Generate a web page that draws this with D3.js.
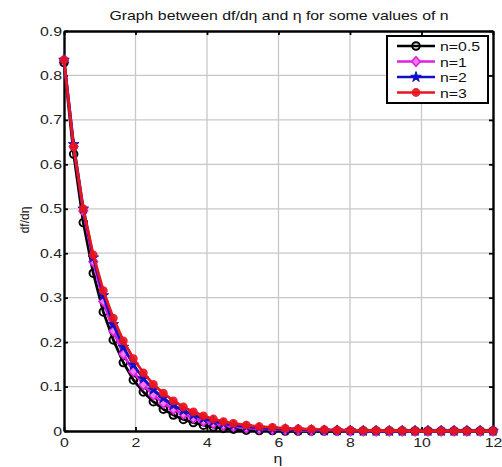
<!DOCTYPE html>
<html>
<head>
<meta charset="utf-8">
<script src="https://cdn.jsdelivr.net/npm/d3@7"></script>
<style>
  body { margin: 0; background: #fff; }
  text { font-family: Arial, "Liberation Sans", sans-serif; }
</style>
</head>
<body>
<div id="viz"></div>
<script>
// eta mesh (solver points)
const eta = [0, 0.27, 0.54, 0.82, 1.10, 1.38, 1.66, 1.94, 2.22, 2.50, 2.78, 3.06, 3.34, 3.62, 3.90,
  4.18, 4.46, 4.74, 5.10, 5.46, 5.83, 6.19, 6.55, 6.92, 7.28, 7.64, 8.01, 8.37, 8.73, 9.10,
  9.46, 9.82, 10.18, 10.55, 10.91, 11.27, 11.64, 12.0];

// df/deta for each n
const n05 = [0.829, 0.623, 0.469, 0.355, 0.268, 0.205, 0.154, 0.115, 0.088, 0.066, 0.049, 0.036, 0.026, 0.019, 0.013,
  0.009, 0.006, 0.004, 0.002, 0.001, 0.001, 0, 0, 0, 0, 0, 0, 0, 0, 0,
  0, 0, 0, 0, 0, 0, 0, 0];
const n1 = [0.835, 0.640, 0.495, 0.381, 0.292, 0.225, 0.173, 0.134, 0.104, 0.081, 0.063, 0.049, 0.038, 0.029, 0.022,
  0.017, 0.013, 0.010, 0.007, 0.005, 0.004, 0.003, 0.002, 0.001, 0.001, 0.001, 0, 0, 0, 0,
  0, 0, 0, 0, 0, 0, 0, 0];
const n2 = [0.835, 0.645, 0.500, 0.390, 0.305, 0.240, 0.189, 0.149, 0.118, 0.093, 0.074, 0.058, 0.046, 0.036, 0.028,
  0.022, 0.017, 0.013, 0.010, 0.007, 0.005, 0.004, 0.003, 0.002, 0.001, 0.001, 0.001, 0, 0, 0,
  0, 0, 0, 0, 0, 0, 0, 0];
const n3 = [0.835, 0.640, 0.500, 0.396, 0.316, 0.254, 0.203, 0.163, 0.131, 0.105, 0.085, 0.068, 0.054, 0.043, 0.034,
  0.027, 0.021, 0.017, 0.013, 0.010, 0.008, 0.006, 0.005, 0.004, 0.003, 0.002, 0.002, 0.001, 0.001, 0.001,
  0.001, 0, 0, 0, 0, 0, 0, 0];

const xTicks = [0, 2, 4, 6, 8, 10, 12];
const yTicks = [0, 0.1, 0.2, 0.3, 0.4, 0.5, 0.6, 0.7, 0.8, 0.9];

const series = [
  { name: "n=0.5", values: n05, color: "#000000", marker: "open" },
  { name: "n=1", values: n1, color: "#e020e0", marker: "diamond" },
  { name: "n=2", values: n2, color: "#1010c8", marker: "star" },
  { name: "n=3", values: n3, color: "#e8141e", marker: "dot" }
];

const W = 502, H = 467;
const margin = { left: 64, right: 9, top: 31, bottom: 36 };
// the picture is stretched sideways, so text is widened
const SX = 1.27;

const svg = d3.select("#viz").append("svg")
  .attr("width", W)
  .attr("height", H);

const x = d3.scaleLinear().domain([0, 12]).range([margin.left, W - margin.right]);
const y = d3.scaleLinear().domain([0, 0.9]).range([H - margin.bottom, margin.top]);

//grid
svg.append("g").selectAll("line").data(xTicks.slice(1, -1)).join("line")
  .attr("x1", d => x(d)).attr("x2", d => x(d))
  .attr("y1", y(0)).attr("y2", y(0.9))
  .attr("stroke", "#c8c8c8").attr("stroke-width", 1.3);
svg.append("g").selectAll("line").data(yTicks.slice(1, -1)).join("line")
  .attr("x1", x(0)).attr("x2", x(12))
  .attr("y1", d => y(d)).attr("y2", d => y(d))
  .attr("stroke", "#c8c8c8").attr("stroke-width", 1.3);

//axes (ticks inside, box on)
const bottomAxis = svg.append("g").attr("transform", `translate(0,${y(0)})`)
  .call(d3.axisBottom(x).tickValues(xTicks).tickFormat(d3.format("d")).tickSizeInner(-4).tickSizeOuter(0).tickPadding(7));
const topAxis = svg.append("g").attr("transform", `translate(0,${y(0.9)})`)
  .call(d3.axisTop(x).tickValues(xTicks).tickFormat("").tickSizeInner(-4).tickSizeOuter(0));
const leftAxis = svg.append("g").attr("transform", `translate(${x(0)},0)`)
  .call(d3.axisLeft(y).tickValues(yTicks).tickFormat(d => d === 0 ? "0" : d3.format(".1f")(d)).tickSizeInner(-4).tickSizeOuter(0).tickPadding(1.5));
const rightAxis = svg.append("g").attr("transform", `translate(${x(12)},0)`)
  .call(d3.axisRight(y).tickValues(yTicks).tickFormat("").tickSizeInner(-4).tickSizeOuter(0));

[bottomAxis, topAxis, leftAxis, rightAxis].forEach(g => {
  g.select(".domain").attr("stroke", "#000").attr("stroke-width", 2.4);
  g.selectAll(".tick line").attr("stroke", "#000").attr("stroke-width", 1.8);
  g.selectAll(".tick text").attr("fill", "#222").style("font-size", "12.5px")
    .style("font-family", "Arial, 'Liberation Sans', sans-serif")
    .attr("transform", `scale(${SX},1)`);
});

//series lines
const line = d3.line().x((d, i) => x(eta[i])).y(d => y(d));

function drawMarker(g, s, cx, cy) {
  if (s.marker === "open") {
    g.append("circle").attr("cx", cx).attr("cy", cy).attr("r", 3.8)
      .attr("fill", "none").attr("stroke", s.color).attr("stroke-width", 2);
  } else if (s.marker === "diamond") {
    g.append("path").attr("d", `M${cx},${cy - 4.8}L${cx + 4.3},${cy}L${cx},${cy + 4.8}L${cx - 4.3},${cy}Z`)
      .attr("fill", "#f07af0").attr("stroke", s.color).attr("stroke-width", 1.6);
  } else if (s.marker === "star") {
    g.append("path").attr("d", d3.symbol(d3.symbolStar, 34)()).attr("transform", `translate(${cx},${cy})`)
      .attr("fill", s.color).attr("stroke", s.color).attr("stroke-width", 1);
  } else {
    g.append("circle").attr("cx", cx).attr("cy", cy).attr("r", 4.4)
      .attr("fill", s.color).attr("opacity", 0.92);
  }
}

series.forEach(s => {
  const g = svg.append("g");
  g.append("path").datum(s.values)
    .attr("d", line)
    .attr("fill", "none")
    .attr("stroke", s.color)
    .attr("stroke-width", 2.8)
    .attr("stroke-linejoin", "round");
  s.values.forEach((v, i) => drawMarker(g, s, x(eta[i]), y(v)));
});

//legend
const lx = 387, ly = 36, lw = 101, lh = 67;
const legend = svg.append("g");
legend.append("rect").attr("x", lx).attr("y", ly).attr("width", lw).attr("height", lh)
  .attr("fill", "#fff").attr("stroke", "#000").attr("stroke-width", 2);
series.forEach((s, i) => {
  const ry = 46 + i * 15.5;
  legend.append("line").attr("x1", 397).attr("x2", 435).attr("y1", ry).attr("y2", ry)
    .attr("stroke", s.color).attr("stroke-width", 2.4);
  drawMarker(legend, s, 416, ry);
  legend.append("text").attr("transform", `translate(440,${ry + 5}) scale(${SX},1)`)
    .style("font-size", "12.5px").attr("fill", "#111").text(s.name);
});

//titles
svg.append("text")
  .attr("transform", `translate(279,20) scale(${SX},1)`)
  .attr("text-anchor", "middle")
  .style("font-size", "12.5px")
  .attr("fill", "#111")
  .text("Graph between df/dη and η for some values of n");

svg.append("text")
  .attr("transform", `translate(278,463) scale(${SX},1)`)
  .attr("text-anchor", "middle")
  .style("font-size", "12.5px")
  .attr("fill", "#111")
  .text("η");

svg.append("text")
  .attr("transform", "translate(29,220) rotate(-90)")
  .attr("text-anchor", "middle")
  .style("font-size", "12px")
  .attr("fill", "#111")
  .text("df/dη");
</script>
</body>
</html>
